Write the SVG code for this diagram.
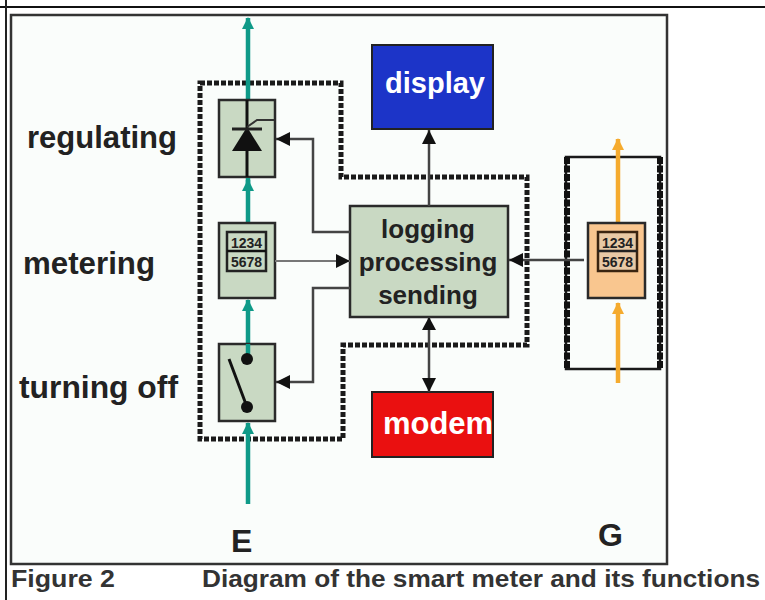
<svg xmlns="http://www.w3.org/2000/svg" width="765" height="600" viewBox="0 0 765 600">
<style>
text{font-family:"Liberation Sans",Arial,sans-serif;font-weight:bold}
.lbl{font-size:31px;fill:#222}
.box{fill:#c9d9c3;stroke:#2a2a2a;stroke-width:2.5}
.dot{fill:none;stroke:#1a1a1a;stroke-width:5;stroke-dasharray:5 2}
.c{fill:none;stroke:#444;stroke-width:2.5}
.teal{stroke:#0f9a88;stroke-width:4.5;fill:none}
.org{stroke:#f5ab2e;stroke-width:4.5;fill:none}
.num{font-size:14px;fill:#222}
</style>
<defs>
<marker id="a" markerUnits="userSpaceOnUse" markerWidth="16" markerHeight="16" refX="14" refY="7" orient="auto"><path d="M0 0L14 7L0 14Z" fill="#111"/></marker>
<marker id="t" markerUnits="userSpaceOnUse" markerWidth="14" markerHeight="14" refX="11" refY="6" orient="auto"><path d="M0 0L12 6L0 12Z" fill="#0f9a88"/></marker>
<marker id="o" markerUnits="userSpaceOnUse" markerWidth="14" markerHeight="14" refX="11" refY="6" orient="auto"><path d="M0 0L12 6L0 12Z" fill="#f5ab2e"/></marker>
</defs>
<rect width="765" height="600" fill="#fff"/>
<rect x="11" y="15" width="656" height="549" fill="#fafdfb" stroke="#333" stroke-width="2.5"/>
<path d="M0 7H765" stroke="#111" stroke-width="2"/>
<path d="M6 0V600" stroke="#222" stroke-width="2"/>
<g id="regions">
<path class="dot" d="M200 83H341V177H527V345H343V439H200Z"/>
<rect x="566" y="157" width="94" height="212" fill="none" stroke="#1a1a1a" stroke-width="2.5"/>
<path d="M567 157V369M660 157V369" fill="none" stroke="#111" stroke-width="6" stroke-dasharray="7 1.5"/>
</g>
<g id="connectors">
<path class="teal" d="M248 504V423" marker-end="url(#t)"/>
<path class="teal" d="M248 344V300" marker-end="url(#t)"/>
<path class="teal" d="M248 222V180" marker-end="url(#t)"/>
<path class="teal" d="M248 100V18" marker-end="url(#t)"/>
<path class="org" d="M618 383V303" marker-end="url(#o)"/>
<path class="org" d="M618 222V139" marker-end="url(#o)"/>
</g>
<g id="regulating">
<rect class="box" x="219" y="100" width="56" height="77"/>
<path d="M247 100V177" stroke="#111" stroke-width="3"/>
<path d="M232 151L247 127L262 151Z" fill="#111"/>
<path d="M232 129H262" stroke="#222" stroke-width="3"/>
<path d="M247 127L257 120H274" stroke="#333" stroke-width="2" fill="none"/>
<path d="M248 178V186" stroke="#0f9a88" stroke-width="4.5"/>
</g>
<g id="metering">
<rect class="box" x="219" y="223" width="56" height="75"/>
<rect x="227" y="232" width="39" height="39" fill="#c9d9c3" stroke="#222" stroke-width="2.5"/>
<path d="M227 251H266" stroke="#111" stroke-width="2.5"/>
<text class="num" x="246.500" y="248" text-anchor="middle">1234</text>
<text class="num" x="246.500" y="267" text-anchor="middle">5678</text>
</g>
<g id="switch">
<rect class="box" x="219" y="344" width="56" height="77"/>
<path d="M248 344V356" stroke="#0f9a88" stroke-width="4.5"/>
<circle cx="247" cy="359" r="6" fill="#111"/>
<circle cx="247" cy="407" r="6" fill="#111"/>
<path d="M229 359L247 407" stroke="#111" stroke-width="3"/>
</g>
<g id="logging">
<rect class="box" x="350" y="206" width="158" height="111"/>
<text x="428" y="238" text-anchor="middle" font-size="26" fill="#222">logging</text>
<text x="428" y="271" text-anchor="middle" font-size="26" fill="#222">processing</text>
<text x="428" y="304" text-anchor="middle" font-size="26" fill="#222">sending</text>
</g>
<g id="display">
<rect x="372" y="45" width="121" height="84" fill="#1c34c8" stroke="#222" stroke-width="2"/>
<text x="435" y="93" text-anchor="middle" font-size="29" fill="#fff">display</text>
</g>
<g id="modem">
<rect x="372" y="392" width="121" height="65" fill="#ea1010" stroke="#222" stroke-width="2"/>
<text x="438" y="434" text-anchor="middle" font-size="31" fill="#fff">modem</text>
</g>
<g id="gas-meter">
<rect x="588" y="223" width="57" height="75" fill="#f9c68f" stroke="#2a2a2a" stroke-width="2.5"/>
<rect x="598" y="232" width="39" height="39" fill="#e8c9a5" stroke="#3a2410" stroke-width="2.5"/>
<path d="M598 251H637" stroke="#222" stroke-width="2.5"/>
<text class="num" x="617.500" y="248" text-anchor="middle">1234</text>
<text class="num" x="617.500" y="267" text-anchor="middle">5678</text>
</g>
<g id="signal-connectors">
<path class="c" d="M350 232H313V139H276" marker-end="url(#a)"/>
<path d="M275 261H350" stroke="#777" stroke-width="2" marker-end="url(#a)"/>
<path class="c" d="M350 288H313V382H276" marker-end="url(#a)"/>
<path class="c" d="M429 206V130" marker-end="url(#a)"/>
<path class="c" d="M429 317V392" marker-end="url(#a)"/>
<path d="M429 317l-7 13h14Z" fill="#111"/>
<path class="c" d="M584 260H509" marker-end="url(#a)"/>
</g>
<text class="lbl" x="27" y="148" textLength="150" lengthAdjust="spacingAndGlyphs">regulating</text>
<text class="lbl" x="23" y="274" textLength="132" lengthAdjust="spacingAndGlyphs">metering</text>
<text class="lbl" x="19" y="398" textLength="159" lengthAdjust="spacingAndGlyphs">turning off</text>
<text x="231" y="552" font-size="32" fill="#222">E</text>
<text x="598" y="546" font-size="32" fill="#222">G</text>
<text x="11" y="587" font-size="24" fill="#333" textLength="104" lengthAdjust="spacingAndGlyphs">Figure 2</text>
<text x="202" y="587" font-size="24" fill="#333" textLength="558" lengthAdjust="spacingAndGlyphs">Diagram of the smart meter and its functions</text>
</svg>
